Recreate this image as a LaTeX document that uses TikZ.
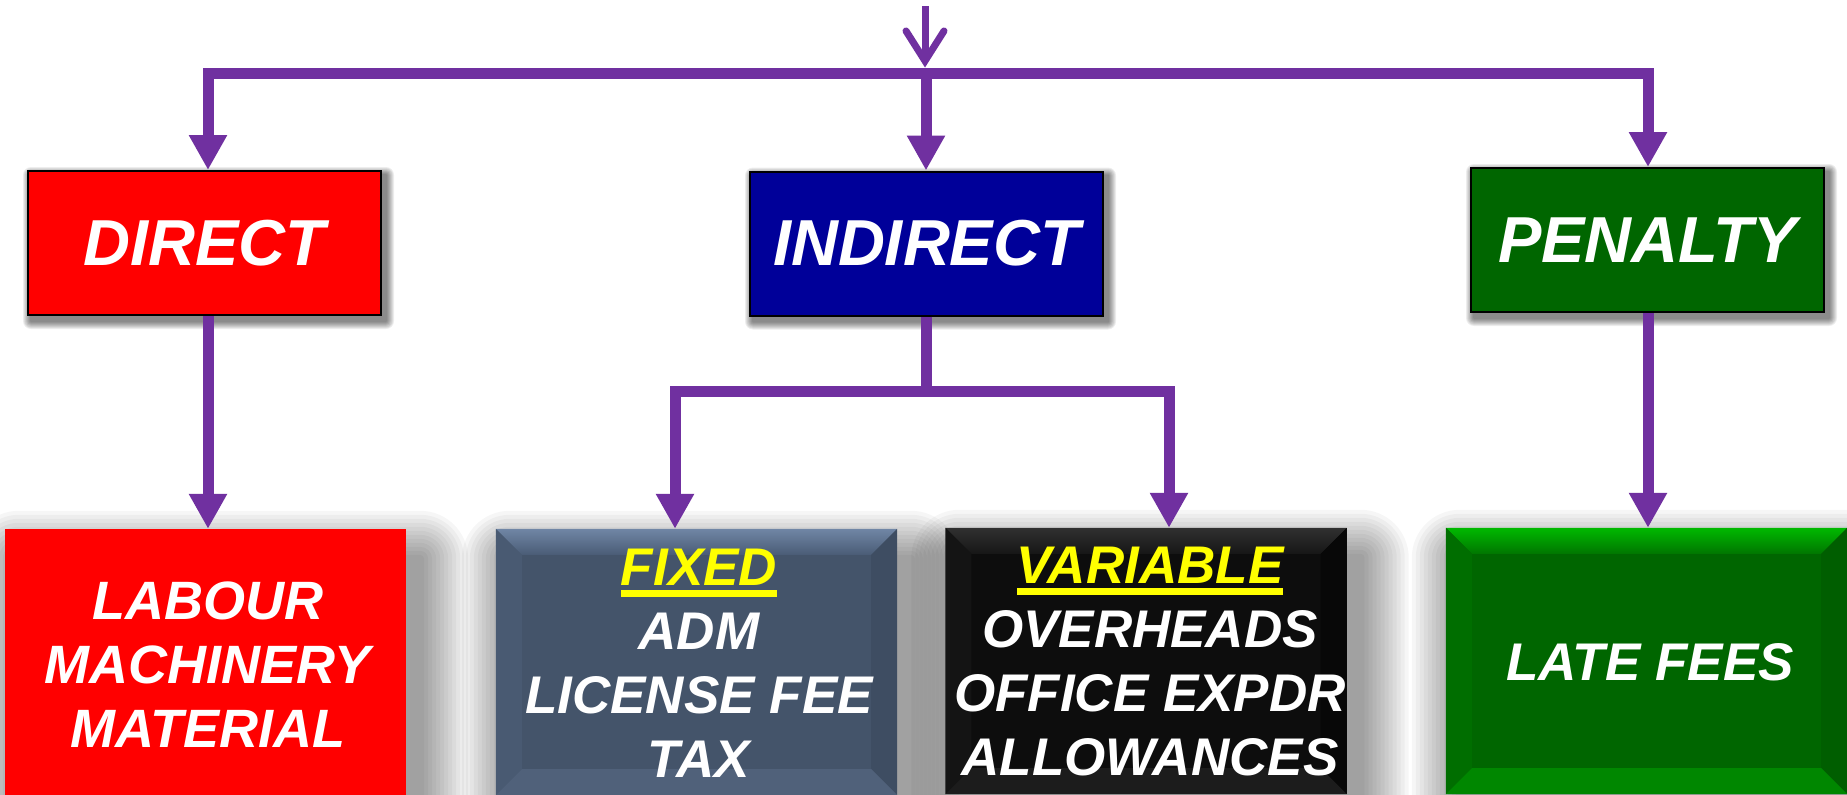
\documentclass[tikz,border=0pt]{standalone}
\usepackage{fontspec}
\setmainfont{Liberation Sans}
\usetikzlibrary{arrows.meta,calc,backgrounds}

\definecolor{purp}{RGB}{112,48,160}
\definecolor{navyb}{RGB}{0,0,153}
\definecolor{dgreen}{RGB}{0,102,0}
\definecolor{slate}{RGB}{68,84,106}
\definecolor{nblack}{RGB}{13,13,13}
\definecolor{hiyellow}{RGB}{255,255,0}
% bevel tones
\definecolor{slateTopA}{RGB}{112,134,165}
\definecolor{slateTopB}{RGB}{74,92,118}
\definecolor{slateL}{RGB}{73,90,114}
\definecolor{slateR}{RGB}{62,77,98}
\definecolor{slateB}{RGB}{80,97,122}
\definecolor{blkTopA}{RGB}{48,48,48}
\definecolor{blkTopB}{RGB}{22,22,22}
\definecolor{blkL}{RGB}{20,20,20}
\definecolor{blkR}{RGB}{8,8,8}
\definecolor{blkB}{RGB}{28,28,28}
\definecolor{grnTopA}{RGB}{0,185,0}
\definecolor{grnTopB}{RGB}{0,118,0}
\definecolor{grnL}{RGB}{0,110,0}
\definecolor{grnR}{RGB}{0,94,0}
\definecolor{grnB}{RGB}{0,135,0}

% underlined heading in yellow
\newsavebox\headbox
\newcommand\yhead[1]{\sbox\headbox{#1}\textcolor{hiyellow}{\rlap{\rule[-12pt]{\wd\headbox}{7pt}}#1}}

% soft shadow behind a node: node, dx, dy, spread step, opacity, steps
\newcommand\softshadow[6]{%
  \foreach \k in {1,...,#6}{%
    \pgfmathsetmacro\rr{\k*#4}%
    \fill[black, opacity=#5, rounded corners=\rr pt]
      ($(#1.north west)+(#2-\rr,#3-\rr)$) rectangle ($(#1.south east)+(#2+\rr,#3+\rr)$);
  }}

% bevelled edge of a box: node, top outer, top inner, left, right, bottom
\newcommand\bevel[6]{%
  \shade[top color=#2, bottom color=#3]
    (#1.north west) -- (#1.north east) -- ([shift={(-26,26)}]#1.north east)
    -- ([shift={(26,26)}]#1.north west) -- cycle;
  \fill[#4] (#1.north west) -- ([shift={(26,26)}]#1.north west)
    -- ([shift={(26,-26)}]#1.south west) -- (#1.south west) -- cycle;
  \fill[#5] (#1.north east) -- ([shift={(-26,26)}]#1.north east)
    -- ([shift={(-26,-26)}]#1.south east) -- (#1.south east) -- cycle;
  \fill[#6] (#1.south west) -- ([shift={(26,-26)}]#1.south west)
    -- ([shift={(-26,-26)}]#1.south east) -- (#1.south east) -- cycle;
}

\begin{document}
\begin{tikzpicture}[x=1pt,y=-1pt,
  pipe/.style={draw=purp, line width=11pt},
  arr/.style={pipe, -{Triangle[length=35pt,width=36pt]}},
  feed/.style={draw=purp, line width=7pt, -{Straight Barb[length=30pt,width=38pt,line cap=round]}},
  topbox/.style={draw=black, line width=2pt, minimum width=353pt, minimum height=144pt,
    inner sep=0pt, text=white, font=\bfseries\itshape\fontsize{65}{70}\selectfont},
  lowbox/.style={minimum width=401pt, minimum height=266pt, inner sep=0pt},
  lowtext/.style={anchor=base, align=center, text=white, inner sep=0pt,
    font=\bfseries\itshape\fontsize{54}{64}\selectfont},
  smalltext/.style={lowtext, font=\bfseries\itshape\fontsize{53}{64}\selectfont},
]
\useasboundingbox (0,0) rectangle (1847,795);

% upper level
\node[topbox, fill=red]    (direct)   at (204.5,243)  {DIRECT};
\node[topbox, fill=navyb]  (indirect) at (926.5,243.5) {INDIRECT};
\node[topbox, fill=dgreen] (penalty)  at (1647.5,240) {PENALTY};

% lower level
\node[lowbox, fill=red]    (labour)   at (205.5,662) {};
\node[lowbox, fill=slate]  (fixed)    at (696.5,662) {};
\node[lowbox, fill=nblack] (variable) at (1146,661)  {};
\node[lowbox, fill=dgreen] (late)     at (1646.5,661) {};

\bevel{fixed}{slateTopA}{slateTopB}{slateL}{slateR}{slateB}
\bevel{variable}{blkTopA}{blkTopB}{blkL}{blkR}{blkB}
\bevel{late}{grnTopA}{grnTopB}{grnL}{grnR}{grnB}

% multi-line labels are placed by the baseline of their last line
\node[lowtext] (labourtxt) at (208,747) {LABOUR\\MACHINERY\\MATERIAL};
\node[smalltext] (fixedtxt) at (699,777) {\yhead{FIXED}\\ADM\\LICENSE FEE\\TAX};
\node[smalltext] (variabletxt) at (1150,775) {\yhead{VARIABLE}\\OVERHEADS\\OFFICE EXPDR\\ALLOWANCES};
\node[smalltext] (latetxt) at (1650,680) {LATE FEES};

% connectors
\coordinate (src)  at (925,6);
\coordinate (busL) at (208,73);
\coordinate (busM) at (926,73);
\coordinate (busR) at (1648,73);
\coordinate (brM)  at (926,391);
\coordinate (brL)  at (675,391);
\coordinate (brR)  at (1169,391);

\draw[feed] (src) -- (925,67.5);
\draw[pipe, line cap=rect] (busL) -- (busR);
\draw[arr] (busL) -- (busL |- direct.north);
\draw[arr] (busM) -- (busM |- indirect.north);
\draw[arr] (busR) -- (busR |- penalty.north);

\draw[arr] (direct.south -| busL) -- (busL |- labour.north);
\draw[arr] (penalty.south -| busR) -- (busR |- late.north);

\draw[pipe] (indirect.south -| brM) -- (brM);
\draw[pipe, line cap=rect] (brL) -- (brR);
\draw[arr] (brL) -- (brL |- fixed.north);
\draw[arr] (brR) -- (brR |- variable.north);

\begin{pgfonlayer}{background}
  \fill[white] (0,0) rectangle (1847,795);
  \softshadow{direct}{4}{5}{1}{0.07}{8}
  \softshadow{indirect}{4}{5}{1}{0.07}{8}
  \softshadow{penalty}{4}{5}{1}{0.07}{8}
  \softshadow{labour}{14}{30}{4}{0.035}{12}
  \softshadow{fixed}{14}{30}{4}{0.035}{12}
  \softshadow{variable}{14}{30}{4}{0.035}{12}
  \softshadow{late}{14}{30}{4}{0.035}{12}
\end{pgfonlayer}
\end{tikzpicture}
\end{document}
